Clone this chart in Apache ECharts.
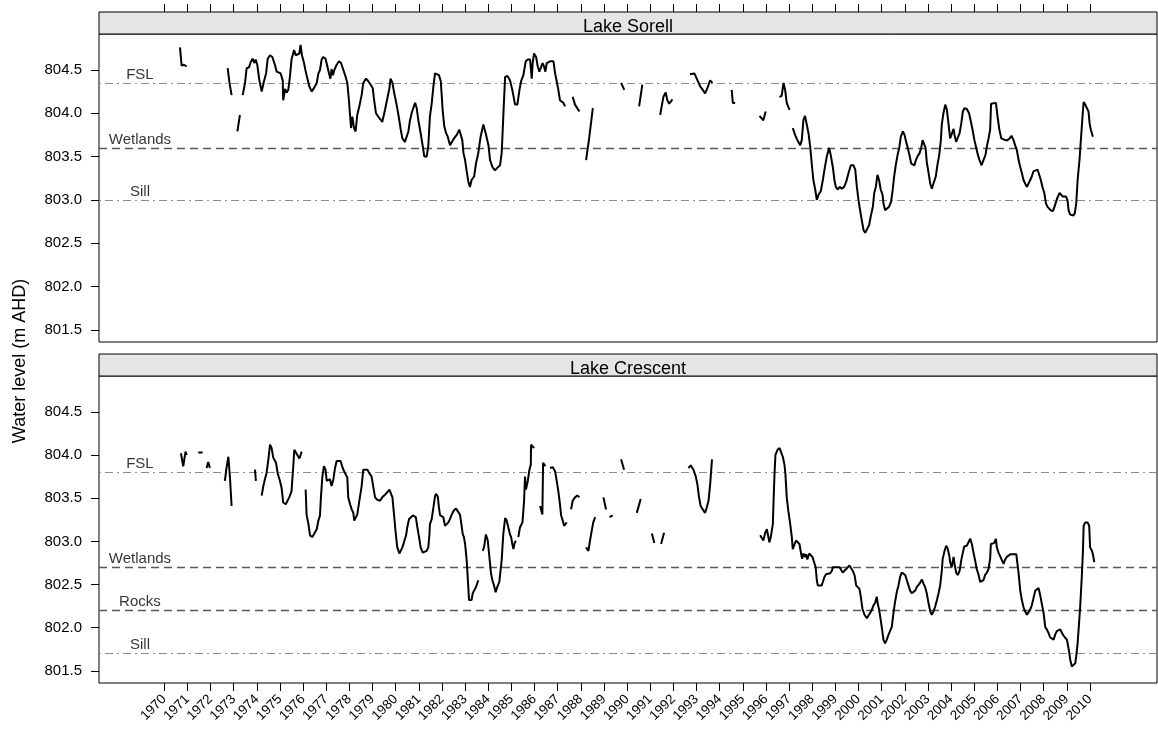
<!DOCTYPE html>
<html>
<head>
<meta charset="utf-8">
<title>Lake Sorell / Lake Crescent water levels</title>
<script src="https://cdn.jsdelivr.net/npm/echarts@6/dist/echarts.min.js"></script>
<style>
  html, body { margin: 0; padding: 0; background: #fff; }
  #chart { width: 1158px; height: 733px; }
</style>
</head>
<body>
<div id="chart"></div>
<script>
// 两个湖的水位，按连续段记录（段与段之间是缺测）
const sorellSegments = [
  [[1970.68,804.76],[1970.75,804.55],[1970.85,804.56],[1970.97,804.54]],
  [[1972.74,804.52],[1972.82,804.35],[1972.91,804.21]],
  [[1973.16,803.79],[1973.27,803.98]],
  [[1973.39,804.21],[1973.49,804.35],[1973.56,804.52],[1973.66,804.53],[1973.75,804.60],[1973.82,804.63],[1973.89,804.58],[1973.95,804.62],[1974.02,804.56],[1974.11,804.38],[1974.21,804.25],[1974.31,804.37],[1974.40,804.46],[1974.47,804.63],[1974.57,804.67],[1974.67,804.65],[1974.78,804.56],[1974.86,804.48],[1974.93,804.50],[1975.03,804.46],[1975.12,804.38],[1975.14,804.15],[1975.22,804.28],[1975.29,804.24],[1975.36,804.27],[1975.43,804.42],[1975.50,804.62],[1975.61,804.73],[1975.68,804.67],[1975.75,804.65],[1975.84,804.69],[1975.89,804.79],[1975.95,804.67],[1976.04,804.58],[1976.10,804.50],[1976.15,804.44],[1976.27,804.31],[1976.37,804.25],[1976.47,804.29],[1976.59,804.35],[1976.66,804.46],[1976.73,804.50],[1976.80,804.62],[1976.87,804.65],[1976.97,804.63],[1977.05,804.54],[1977.12,804.46],[1977.18,804.40],[1977.23,804.51],[1977.29,804.44],[1977.35,804.50],[1977.45,804.56],[1977.55,804.60],[1977.64,804.58],[1977.74,804.50],[1977.84,804.42],[1977.91,804.35],[1977.98,804.15],[1978.07,803.83],[1978.13,803.96],[1978.20,803.83],[1978.27,803.79],[1978.34,803.98],[1978.43,804.08],[1978.53,804.21],[1978.60,804.35],[1978.72,804.40],[1978.82,804.37],[1978.92,804.33],[1979.01,804.29],[1979.06,804.17],[1979.15,804.00],[1979.25,803.96],[1979.32,803.98],[1979.42,803.90],[1979.50,803.88],[1979.54,804.04],[1979.64,804.17],[1979.73,804.29],[1979.78,804.40],[1979.86,804.35],[1979.94,804.23],[1980.04,804.10],[1980.12,803.98],[1980.22,803.81],[1980.29,803.71],[1980.40,803.67],[1980.48,803.69],[1980.55,803.79],[1980.62,803.92],[1980.69,804.00],[1980.76,804.06],[1980.84,804.12],[1980.91,804.06],[1980.98,803.92],[1981.08,803.77],[1981.17,803.62],[1981.24,803.50],[1981.34,803.50],[1981.41,803.62],[1981.48,803.96],[1981.56,804.12],[1981.63,804.31],[1981.70,804.46],[1981.77,804.48],[1981.87,804.44],[1981.95,804.37],[1982.03,804.04],[1982.10,803.85],[1982.18,803.77],[1982.25,803.73],[1982.35,803.63],[1982.42,803.65],[1982.52,803.71],[1982.64,803.75],[1982.75,803.81],[1982.81,803.79],[1982.88,803.69],[1982.93,803.54],[1983.00,803.46],[1983.07,803.33],[1983.14,803.21],[1983.21,803.15],[1983.28,803.23],[1983.39,803.27],[1983.47,803.42],[1983.57,803.54],[1983.67,803.73],[1983.79,803.87],[1983.89,803.77],[1984.01,803.63],[1984.08,803.46],[1984.18,803.38],[1984.29,803.34],[1984.39,803.37],[1984.51,803.40],[1984.58,803.54],[1984.62,803.77],[1984.67,804.08],[1984.73,804.42],[1984.83,804.43],[1984.94,804.38],[1985.04,804.27],[1985.16,804.10],[1985.26,804.10],[1985.35,804.27],[1985.42,804.37],[1985.52,804.44],[1985.56,804.46],[1985.62,804.60],[1985.71,804.62],[1985.76,804.60],[1985.81,804.62],[1985.88,804.40],[1985.92,804.58],[1985.98,804.69],[1986.07,804.65],[1986.14,804.54],[1986.21,804.48],[1986.28,804.50],[1986.35,804.58],[1986.41,804.54],[1986.47,804.48],[1986.53,804.58],[1986.60,804.56],[1986.67,804.60],[1986.74,804.58],[1986.82,804.60],[1986.89,804.46],[1986.96,804.37],[1987.03,804.27],[1987.10,804.15],[1987.18,804.13],[1987.25,804.12],[1987.32,804.08]],
  [[1987.65,804.19],[1987.75,804.10],[1987.94,804.02]],
  [[1988.23,803.46],[1988.37,803.73],[1988.52,804.06]],
  [[1989.74,804.35],[1989.88,804.27]],
  [[1990.52,804.08],[1990.66,804.33]],
  [[1991.43,803.98],[1991.57,804.19],[1991.67,804.24],[1991.74,804.15],[1991.82,804.11],[1991.96,804.16]],
  [[1992.72,804.45],[1992.91,804.46],[1993.01,804.40],[1993.16,804.31],[1993.27,804.27],[1993.37,804.23],[1993.47,804.29],[1993.59,804.38],[1993.69,804.35]],
  [[1994.52,804.27],[1994.57,804.12],[1994.67,804.12]],
  [[1995.72,803.97],[1995.89,803.92],[1995.99,804.02]],
  [[1996.58,804.19],[1996.68,804.20],[1996.76,804.35],[1996.83,804.27],[1996.90,804.12],[1997.02,804.04]],
  [[1997.16,803.83],[1997.26,803.75],[1997.36,803.69],[1997.48,803.63],[1997.55,803.69],[1997.62,803.92],[1997.69,803.97],[1997.77,803.96],[1997.84,803.77],[1997.91,803.62],[1997.98,803.42],[1998.05,803.23],[1998.13,803.12],[1998.20,803.00],[1998.27,803.06],[1998.37,803.10],[1998.46,803.23],[1998.53,803.35],[1998.63,803.50],[1998.73,803.60],[1998.80,803.52],[1998.89,803.38],[1998.96,803.23],[1999.02,803.15],[1999.11,803.12],[1999.18,803.15],[1999.28,803.13],[1999.38,803.15],[1999.47,803.21],[1999.57,803.31],[1999.67,803.40],[1999.78,803.40],[1999.86,803.35],[1999.93,803.15],[2000.00,803.00],[2000.07,802.88],[2000.14,802.77],[2000.22,802.65],[2000.29,802.62],[2000.36,802.63],[2000.46,802.71],[2000.53,802.81],[2000.62,802.92],[2000.68,803.08],[2000.75,803.15],[2000.82,803.29],[2000.89,803.23],[2000.96,803.12],[2001.04,803.06],[2001.08,802.96],[2001.15,802.88],[2001.22,802.88],[2001.32,802.92],[2001.41,802.98],[2001.48,803.12],[2001.54,803.27],[2001.61,803.40],[2001.69,803.52],[2001.76,803.60],[2001.83,803.73],[2001.92,803.79],[2001.99,803.75],[2002.06,803.67],[2002.13,803.60],[2002.20,803.52],[2002.28,803.42],[2002.35,803.40],[2002.42,803.40],[2002.48,803.46],[2002.55,803.50],[2002.64,803.54],[2002.71,803.60],[2002.77,803.69],[2002.84,803.67],[2002.90,803.60],[2002.95,803.44],[2003.03,803.31],[2003.10,803.19],[2003.17,803.13],[2003.24,803.19],[2003.34,803.27],[2003.41,803.40],[2003.49,803.52],[2003.56,803.69],[2003.60,803.87],[2003.67,804.00],[2003.75,804.10],[2003.82,804.04],[2003.89,803.88],[2003.96,803.71],[2004.03,803.69],[2004.11,803.82],[2004.15,803.75],[2004.22,803.67],[2004.29,803.69],[2004.37,803.77],[2004.44,803.88],[2004.51,804.02],[2004.58,804.06],[2004.68,804.05],[2004.78,804.00],[2004.86,803.90],[2004.93,803.81],[2005.01,803.69],[2005.09,803.60],[2005.16,803.52],[2005.23,803.46],[2005.32,803.40],[2005.40,803.46],[2005.49,803.52],[2005.55,803.62],[2005.62,803.71],[2005.69,803.81],[2005.73,804.11],[2005.81,804.12],[2005.94,804.12],[2006.01,803.96],[2006.09,803.81],[2006.17,803.71],[2006.24,803.69],[2006.34,803.69],[2006.44,803.69],[2006.53,803.71],[2006.61,803.74],[2006.70,803.69],[2006.77,803.63],[2006.84,803.58],[2006.92,803.46],[2006.99,803.38],[2007.06,803.31],[2007.13,803.23],[2007.20,803.19],[2007.28,803.15],[2007.35,803.19],[2007.42,803.23],[2007.49,803.27],[2007.56,803.33],[2007.64,803.35],[2007.74,803.35],[2007.81,803.29],[2007.88,803.23],[2007.95,803.15],[2008.03,803.08],[2008.10,802.96],[2008.17,802.92],[2008.24,802.90],[2008.31,802.88],[2008.40,802.87],[2008.47,802.92],[2008.54,802.98],[2008.62,803.04],[2008.69,803.08],[2008.76,803.07],[2008.82,803.04],[2008.89,803.06],[2008.96,803.04],[2009.03,803.00],[2009.08,802.88],[2009.15,802.83],[2009.22,802.81],[2009.29,802.82],[2009.35,802.85],[2009.41,802.96],[2009.47,803.23],[2009.55,803.46],[2009.61,803.69],[2009.68,803.96],[2009.73,804.13],[2009.80,804.10],[2009.87,804.06],[2009.94,804.02],[2009.99,803.88],[2010.04,803.81],[2010.13,803.73]]
];

const crescentSegments = [
  [[1970.72,804.02],[1970.82,803.87],[1970.92,804.04],[1970.97,804.00]],
  [[1971.47,804.03],[1971.66,804.03]],
  [[1971.83,803.85],[1971.90,803.92],[1971.97,803.85]],
  [[1972.62,803.70],[1972.69,803.85],[1972.77,803.98],[1972.84,803.74],[1972.91,803.41]],
  [[1973.92,803.83],[1973.96,803.70]],
  [[1974.21,803.53],[1974.28,803.64],[1974.35,803.72],[1974.42,803.79],[1974.50,803.95],[1974.57,804.12],[1974.64,804.08],[1974.71,803.97],[1974.83,803.91],[1974.90,803.79],[1975.00,803.70],[1975.07,803.62],[1975.14,803.45],[1975.25,803.43],[1975.32,803.44],[1975.40,803.51],[1975.50,803.58],[1975.58,803.89],[1975.62,804.06],[1975.69,804.08],[1975.84,803.96],[1975.94,804.04]],
  [[1976.11,803.60],[1976.15,803.31],[1976.23,803.20],[1976.30,803.07],[1976.40,803.05],[1976.48,803.07],[1976.59,803.14],[1976.66,803.24],[1976.73,803.30],[1976.77,803.51],[1976.83,803.74],[1976.90,803.87],[1976.97,803.83],[1977.02,803.70],[1977.09,803.68],[1977.16,803.72],[1977.23,803.64],[1977.31,803.72],[1977.38,803.85],[1977.45,803.93],[1977.52,803.95],[1977.62,803.93],[1977.71,803.85],[1977.81,803.79],[1977.91,803.74],[1977.95,803.51],[1978.03,803.43],[1978.10,803.37],[1978.17,803.33],[1978.21,803.24],[1978.29,803.24],[1978.34,803.31],[1978.43,803.47],[1978.53,803.64],[1978.60,803.83],[1978.67,803.84],[1978.78,803.83],[1978.86,803.79],[1978.96,803.75],[1979.04,803.62],[1979.11,803.51],[1979.21,803.48],[1979.32,803.47],[1979.42,803.51],[1979.54,803.54],[1979.64,803.57],[1979.73,803.60],[1979.78,803.60],[1979.86,803.51],[1979.93,803.31],[1980.00,803.10],[1980.07,802.93],[1980.16,802.86],[1980.22,802.85],[1980.29,802.93],[1980.36,802.99],[1980.45,803.07],[1980.50,803.16],[1980.58,803.26],[1980.65,803.28],[1980.74,803.30],[1980.81,803.31],[1980.87,803.28],[1980.94,803.16],[1981.01,803.05],[1981.08,802.93],[1981.17,802.87],[1981.24,802.86],[1981.34,802.89],[1981.41,802.93],[1981.46,803.08],[1981.48,803.20],[1981.56,803.26],[1981.63,803.39],[1981.70,803.52],[1981.74,803.55],[1981.82,803.52],[1981.87,803.39],[1981.92,803.30],[1981.99,803.28],[1982.06,803.28],[1982.13,803.18],[1982.21,803.20],[1982.28,803.22],[1982.35,803.26],[1982.42,803.31],[1982.52,803.36],[1982.61,803.38],[1982.68,803.35],[1982.78,803.31],[1982.85,803.18],[1982.90,803.08],[1982.95,803.05],[1983.00,802.97],[1983.07,802.78],[1983.13,802.51],[1983.17,802.32],[1983.21,802.31],[1983.28,802.32],[1983.33,802.40],[1983.40,802.41],[1983.47,802.47],[1983.57,802.55]],
  [[1983.76,802.89],[1983.82,802.93],[1983.90,803.08],[1983.98,803.01],[1984.05,802.82],[1984.12,802.63],[1984.18,802.55],[1984.25,802.49],[1984.32,802.41],[1984.39,802.47],[1984.48,802.53],[1984.54,802.55],[1984.58,802.78],[1984.65,803.08],[1984.73,803.27],[1984.80,803.24],[1984.87,803.16],[1984.94,803.08],[1984.99,803.05],[1985.04,802.97],[1985.09,802.91],[1985.13,802.97],[1985.19,803.01]],
  [[1985.30,803.05],[1985.37,803.16],[1985.48,803.22],[1985.55,803.47],[1985.59,803.75],[1985.63,803.60],[1985.71,803.70],[1985.78,803.83],[1985.84,803.89],[1985.85,804.12],[1985.92,804.10],[1985.98,804.08]],
  [[1986.24,803.41],[1986.34,803.31],[1986.37,803.91],[1986.47,803.87]],
  [[1986.67,803.85],[1986.79,803.86],[1986.89,803.81],[1986.96,803.70],[1987.03,803.58],[1987.10,803.43],[1987.15,803.30],[1987.22,803.24],[1987.28,803.18],[1987.33,803.16],[1987.39,803.22]],
  [[1987.58,803.37],[1987.65,803.47],[1987.75,803.51],[1987.85,803.53],[1987.94,803.51]],
  [[1988.23,802.93],[1988.33,802.89],[1988.40,803.01],[1988.47,803.12],[1988.54,803.22],[1988.62,803.28]],
  [[1988.98,803.51],[1989.09,803.37]],
  [[1989.24,803.28],[1989.38,803.30]],
  [[1989.74,803.95],[1989.87,803.83]],
  [[1990.42,803.33],[1990.59,803.49]],
  [[1991.07,803.09],[1991.18,802.98]],
  [[1991.47,802.97],[1991.60,803.10]],
  [[1992.65,803.85],[1992.75,803.88],[1992.87,803.83],[1992.97,803.75],[1993.04,803.66],[1993.11,803.51],[1993.18,803.41],[1993.27,803.37],[1993.37,803.33],[1993.44,803.39],[1993.52,803.47],[1993.59,803.66],[1993.67,803.95]],
  [[1995.75,803.07],[1995.82,803.05],[1995.89,803.01],[1995.97,803.10],[1996.04,803.14],[1996.11,803.12],[1996.15,802.99],[1996.21,803.05],[1996.30,803.20],[1996.33,803.47],[1996.37,803.77],[1996.41,804.00],[1996.50,804.06],[1996.59,804.08],[1996.66,804.06],[1996.73,803.98],[1996.80,803.89],[1996.84,803.79],[1996.90,803.51],[1996.97,803.35],[1997.05,803.20],[1997.12,803.05],[1997.16,802.91],[1997.23,802.91],[1997.30,803.01],[1997.38,803.03],[1997.45,802.97],[1997.52,802.86],[1997.56,802.80],[1997.62,802.86],[1997.68,802.82],[1997.74,802.85],[1997.79,802.79],[1997.87,802.86],[1997.94,802.84],[1998.01,802.82],[1998.08,802.80],[1998.15,802.70],[1998.20,802.55],[1998.24,802.49],[1998.31,802.47],[1998.41,802.49],[1998.46,802.53],[1998.53,802.59],[1998.60,802.62],[1998.67,802.62],[1998.77,802.63],[1998.85,802.66],[1998.89,802.70],[1998.96,802.68],[1999.03,802.70],[1999.11,802.70],[1999.18,802.70],[1999.25,802.68],[1999.32,802.64],[1999.39,802.66],[1999.47,802.68],[1999.54,802.70],[1999.61,802.72],[1999.68,802.70],[1999.75,802.66],[1999.83,802.61],[1999.90,802.49],[1999.97,802.47],[2000.04,802.45],[2000.10,802.36],[2000.17,802.22],[2000.26,802.15],[2000.36,802.11],[2000.43,802.13],[2000.50,802.17],[2000.58,802.21],[2000.65,802.26],[2000.72,802.29],[2000.79,802.36],[2000.83,802.28],[2000.89,802.21],[2000.96,802.09],[2001.02,801.98],[2001.08,801.86],[2001.15,801.82],[2001.22,801.86],[2001.30,801.92],[2001.37,801.94],[2001.44,802.01],[2001.51,802.17],[2001.58,802.30],[2001.66,802.42],[2001.73,802.49],[2001.80,802.59],[2001.87,802.64],[2001.94,802.66],[2002.02,802.61],[2002.09,802.55],[2002.16,802.49],[2002.23,802.43],[2002.30,802.40],[2002.38,802.40],[2002.45,802.43],[2002.52,802.47],[2002.59,802.49],[2002.66,802.52],[2002.74,802.56],[2002.81,802.51],[2002.88,802.47],[2002.95,802.40],[2003.03,802.28],[2003.10,802.19],[2003.17,802.15],[2003.24,802.19],[2003.31,802.24],[2003.39,802.32],[2003.46,802.40],[2003.53,802.49],[2003.60,802.66],[2003.64,802.80],[2003.72,802.89],[2003.79,802.95],[2003.85,802.92],[2003.92,802.84],[2003.96,802.76],[2004.03,802.70],[2004.11,802.82],[2004.15,802.74],[2004.22,802.64],[2004.29,802.61],[2004.37,802.66],[2004.44,802.78],[2004.51,802.87],[2004.57,802.94],[2004.68,802.95],[2004.75,802.95],[2004.83,803.03],[2004.90,802.97],[2004.97,802.87],[2005.04,802.78],[2005.11,802.68],[2005.19,802.61],[2005.26,802.53],[2005.33,802.51],[2005.40,802.55],[2005.47,802.61],[2005.55,802.64],[2005.62,802.68],[2005.69,802.80],[2005.72,802.97],[2005.79,802.98],[2005.86,802.98],[2005.94,803.03],[2005.98,802.93],[2006.05,802.87],[2006.12,802.83],[2006.20,802.82],[2006.27,802.74],[2006.34,802.79],[2006.41,802.82],[2006.48,802.83],[2006.56,802.85],[2006.63,802.85],[2006.70,802.85],[2006.77,802.83],[2006.82,802.85],[2006.87,802.74],[2006.92,802.63],[2006.99,802.43],[2007.06,802.32],[2007.13,802.24],[2007.20,802.19],[2007.28,802.15],[2007.35,802.17],[2007.42,802.21],[2007.49,802.26],[2007.56,802.34],[2007.64,802.43],[2007.71,802.45],[2007.78,802.46],[2007.85,802.38],[2007.92,802.28],[2008.00,802.17],[2008.07,802.01],[2008.14,801.98],[2008.21,801.94],[2008.28,801.89],[2008.36,801.87],[2008.43,801.86],[2008.50,801.92],[2008.57,801.96],[2008.65,801.98],[2008.72,801.98],[2008.79,801.94],[2008.86,801.91],[2008.93,801.90],[2009.01,801.86],[2009.05,801.80],[2009.11,801.71],[2009.15,801.63],[2009.22,801.55],[2009.29,801.54],[2009.37,801.59],[2009.41,801.67],[2009.47,801.82],[2009.52,802.01],[2009.58,802.24],[2009.65,802.59],[2009.70,802.89],[2009.73,803.18],[2009.80,803.22],[2009.90,803.22],[2009.97,803.18],[2010.01,802.93],[2010.09,802.89],[2010.13,802.85],[2010.19,802.76]]
];

// 参考水位
const sorellRefNames = ['FSL', 'Wetlands', 'Sill'];
const sorellRefLevels = [804.35, 803.6, 803.0];
const crescentRefNames = ['FSL', 'Wetlands', 'Rocks', 'Sill'];
const crescentRefLevels = [803.8, 802.7, 802.2, 801.7];

const panelTitles = ['Lake Sorell', 'Lake Crescent'];
const yearTicks = [1970,1971,1972,1973,1974,1975,1976,1977,1978,1979,1980,1981,1982,1983,1984,1985,1986,1987,1988,1989,1990,1991,1992,1993,1994,1995,1996,1997,1998,1999,2000,2001,2002,2003,2004,2005,2006,2007,2008,2009,2010];
const levelTicks = [801.5, 802.0, 802.5, 803.0, 803.5, 804.0, 804.5];

const FONT = '"Liberation Sans", Arial, Helvetica, sans-serif';
const X_MIN = 1967.18, X_MAX = 2012.9;
const Y_MIN = 801.36, Y_MAX = 804.915;
const LABEL_YEAR = 1968.95;

// 段之间插入空值，让折线断开
function joinSegments(segs) {
  const out = [];
  segs.forEach((s, i) => {
    if (i > 0) out.push([(segs[i - 1][segs[i - 1].length - 1][0] + s[0][0]) / 2, '-']);
    s.forEach(p => out.push(p));
  });
  return out;
}

const dotDash = { color: '#8c8c8c', width: 1, type: [2, 4, 8, 4] };
const dashed = { color: '#595959', width: 1.3, type: [8, 5] };
function refStyle(name) {
  return (name === 'Wetlands' || name === 'Rocks') ? dashed : dotDash;
}

function refSeries(idx, names, levels) {
  return [{
    type: 'line',
    xAxisIndex: idx, yAxisIndex: idx,
    data: [],
    silent: true,
    markLine: {
      silent: true,
      symbol: ['none', 'none'],
      label: { show: false },
      data: levels.map((v, i) => ({ yAxis: v, lineStyle: refStyle(names[i]) }))
    }
  }, {
    type: 'scatter',
    xAxisIndex: idx, yAxisIndex: idx,
    symbolSize: 0,
    silent: true,
    data: levels.map((v, i) => [LABEL_YEAR, v, names[i]]),
    label: {
      show: true, position: 'top', distance: 1,
      formatter: p => p.value[2],
      color: '#000', fontSize: 15, fontFamily: FONT
    }
  }];
}

function levelSeries(idx, segs) {
  return {
    type: 'line',
    xAxisIndex: idx, yAxisIndex: idx,
    data: joinSegments(segs),
    showSymbol: false, symbol: 'none',
    connectNulls: false,
    lineStyle: { color: '#000', width: 2 },
    z: 5
  };
}

const panels = [{ top: 34, height: 308 }, { top: 376, height: 307 }];
const stripH = 22;

const chart = echarts.init(document.getElementById('chart'));
chart.setOption({
  animation: false,
  backgroundColor: '#fff',
  grid: panels.map(p => ({
    left: 99, right: 1, top: p.top, height: p.height,
    show: true, borderColor: '#000', borderWidth: 1
  })),
  xAxis: [{
    gridIndex: 0, type: 'value', min: X_MIN, max: X_MAX,
    position: 'top', offset: stripH,
    axisLine: { show: false },
    axisTick: { show: true, length: 8, customValues: yearTicks, lineStyle: { color: '#000' } },
    axisLabel: { show: false },
    splitLine: { show: false }
  }, {
    gridIndex: 1, type: 'value', min: X_MIN, max: X_MAX,
    position: 'bottom',
    axisLine: { show: false },
    axisTick: { show: true, length: 8, customValues: yearTicks, lineStyle: { color: '#000' } },
    axisLabel: {
      customValues: yearTicks, interval: 0, rotate: 45, margin: 14,
      fontSize: 13.5, fontFamily: FONT, color: '#000',
      formatter: v => String(Math.round(v))
    },
    splitLine: { show: false }
  }],
  yAxis: [0, 1].map(i => ({
    gridIndex: i, type: 'value', min: Y_MIN, max: Y_MAX,
    axisLine: { show: false },
    axisTick: { show: true, length: 8, customValues: levelTicks, lineStyle: { color: '#000' } },
    axisLabel: {
      customValues: levelTicks, margin: 17,
      fontSize: 15, fontFamily: FONT, color: '#000',
      formatter: v => v.toFixed(1)
    },
    splitLine: { show: false }
  })),
  graphic: [
    ...panels.map((p, i) => ({
      type: 'rect', z: 10,
      shape: { x: 99, y: p.top - stripH, width: 1058, height: stripH },
      style: { fill: '#e5e5e5', stroke: '#000', lineWidth: 1 }
    })),
    ...panels.map((p, i) => ({
      type: 'text', z: 11,
      x: 628, y: p.top - stripH + 15,
      style: {
        text: panelTitles[i], font: '18px ' + FONT, fill: '#000',
        textAlign: 'center', textVerticalAlign: 'middle', align: 'center', verticalAlign: 'middle'
      }
    })),
    {
      type: 'text', z: 11, x: 20, y: 361, rotation: Math.PI / 2,
      style: {
        text: 'Water level (m AHD)', font: '18px ' + FONT, fill: '#000',
        textAlign: 'center', textVerticalAlign: 'middle', align: 'center', verticalAlign: 'middle'
      }
    }
  ],
  series: [
    ...refSeries(0, sorellRefNames, sorellRefLevels),
    ...refSeries(1, crescentRefNames, crescentRefLevels),
    levelSeries(0, sorellSegments),
    levelSeries(1, crescentSegments)
  ]
});

window.addEventListener('resize', () => chart.resize());
</script>
</body>
</html>
